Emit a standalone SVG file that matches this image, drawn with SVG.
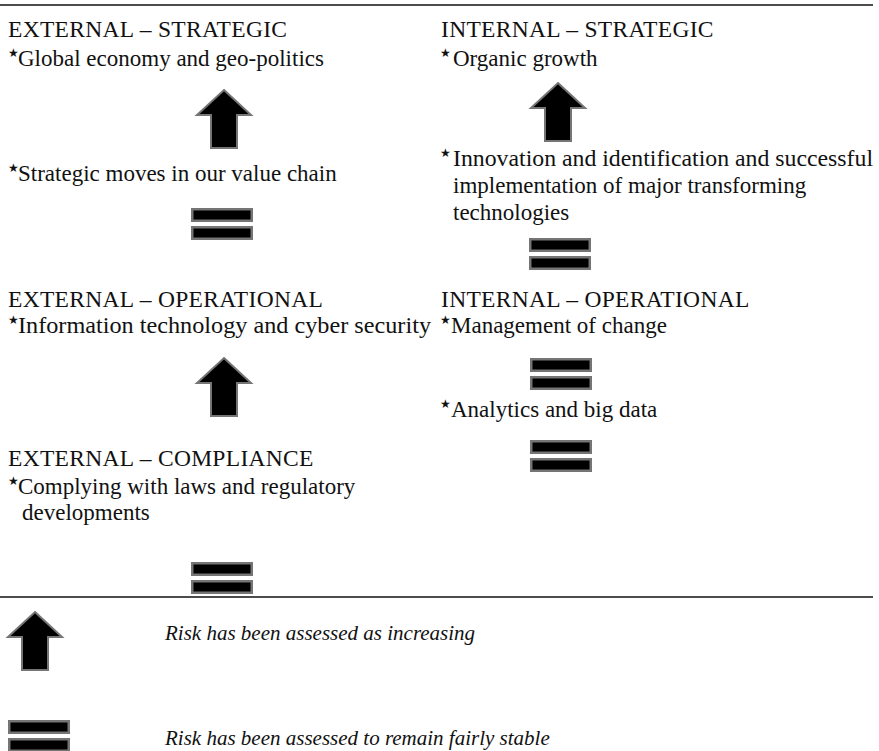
<svg xmlns="http://www.w3.org/2000/svg" width="879" height="751" viewBox="0 0 879 751">
  <style>
    .hd { font-family: "Liberation Serif", "DejaVu Serif", serif; font-size: 23.5px; letter-spacing: 0.3px; fill: #111; }
    .tx { font-family: "Liberation Serif", "DejaVu Serif", serif; font-size: 23px; fill: #111; }
    .it { font-family: "Liberation Serif", "DejaVu Serif", serif; font-size: 21px; font-style: italic; fill: #111; }
    .st { font-family: "DejaVu Sans", sans-serif; font-size: 12px; fill: #111; }
    .rule { stroke: #111; stroke-width: 1.6; }
    .up { fill: #000; stroke: #757575; stroke-width: 2; stroke-linejoin: miter; }
    .bar { fill: #000; stroke: #757575; stroke-width: 2.5; }
  </style>
  <defs>
    <!-- upward arrow: tip at origin -->
    <path id="upArrow" class="up" d="M0,0 L27,25 L13,25 L13,58 L-13,58 L-13,25 L-27,25 Z"/>
    <!-- two stacked bars: top-left at origin -->
    <g id="stable">
      <rect class="bar" x="1.25" y="1.25" width="59.5" height="11.5"/>
      <rect class="bar" x="1.25" y="19.25" width="59.5" height="11.5"/>
    </g>
  </defs>

  <!-- rules -->
  <line class="rule" x1="0" y1="5" x2="873" y2="5"/>
  <line class="rule" x1="0" y1="597" x2="873" y2="597"/>

  <!-- external strategic -->
  <g id="ext-strategic">
    <text class="hd" x="8" y="37">EXTERNAL – STRATEGIC</text>
    <text class="st" x="8" y="57">★</text>
    <text class="tx" x="18" y="66">Global economy and geo-politics</text>
    <use href="#upArrow" x="224" y="90"/>
    <text class="st" x="8" y="172">★</text>
    <text class="tx" x="18" y="181">Strategic moves in our value chain</text>
    <use href="#stable" x="191" y="208"/>
  </g>

  <!-- internal strategic -->
  <g id="int-strategic">
    <text class="hd" x="441" y="37">INTERNAL – STRATEGIC</text>
    <text class="st" x="440" y="57">★</text>
    <text class="tx" x="453" y="66">Organic growth</text>
    <use href="#upArrow" x="558" y="83"/>
    <text class="st" x="440" y="157">★</text>
    <text class="tx" x="453" y="166" textLength="420" lengthAdjust="spacingAndGlyphs">Innovation and identification and successful</text>
    <text class="tx" x="453" y="193">implementation of major transforming</text>
    <text class="tx" x="453" y="220">technologies</text>
    <use href="#stable" x="529" y="238"/>
  </g>

  <!-- external operational -->
  <g id="ext-operational">
    <text class="hd" x="8" y="307">EXTERNAL – OPERATIONAL</text>
    <text class="st" x="8" y="324">★</text>
    <text class="tx" x="18" y="333" textLength="413" lengthAdjust="spacingAndGlyphs">Information technology and cyber security</text>
    <use href="#upArrow" x="224" y="358"/>
  </g>

  <!-- internal operational -->
  <g id="int-operational">
    <text class="hd" x="441" y="307">INTERNAL – OPERATIONAL</text>
    <text class="st" x="440" y="324">★</text>
    <text class="tx" x="451" y="333">Management of change</text>
    <use href="#stable" x="530" y="358"/>
    <text class="st" x="440" y="408">★</text>
    <text class="tx" x="451" y="417">Analytics and big data</text>
    <use href="#stable" x="530" y="440"/>
  </g>

  <!-- external compliance -->
  <g id="ext-compliance">
    <text class="hd" x="8" y="466">EXTERNAL – COMPLIANCE</text>
    <text class="st" x="8" y="485">★</text>
    <text class="tx" x="18" y="494">Complying with laws and regulatory</text>
    <text class="tx" x="22" y="520">developments</text>
    <use href="#stable" x="191" y="562"/>
  </g>

  <!-- key -->
  <g id="key">
    <use href="#upArrow" x="35" y="612"/>
    <text class="it" x="165" y="640">Risk has been assessed as increasing</text>
    <use href="#stable" x="8" y="720"/>
    <text class="it" x="165" y="745">Risk has been assessed to remain fairly stable</text>
  </g>
</svg>
